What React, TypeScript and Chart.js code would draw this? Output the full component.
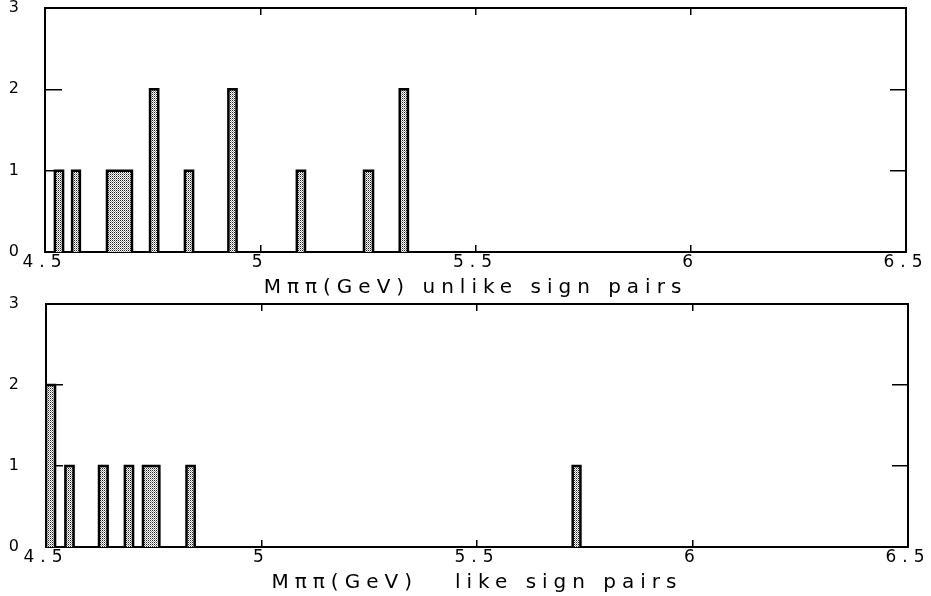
import React, { useEffect, useRef } from "react";
import { Chart, registerables } from "chart.js";

Chart.register(...registerables);

// ---- data (GeV bin edges, counts) ----
const topLow = [4.523, 4.563, 4.644, 4.744, 4.825, 4.926, 5.085, 5.241, 5.324];
const topHigh = [4.542, 4.581, 4.702, 4.763, 4.844, 4.945, 5.104, 5.262, 5.343];
const topCounts = [1, 1, 1, 2, 1, 2, 1, 1, 2];

const botLow = [4.5, 4.545, 4.623, 4.683, 4.725, 4.826, 5.722];
const botHigh = [4.521, 4.564, 4.643, 4.702, 4.763, 4.845, 5.74];
const botCounts = [2, 1, 1, 1, 1, 1, 1];

const xTicks = [4.5, 5, 5.5, 6, 6.5];
const xTickLabels = ["4.5", "5", "5.5", "6", "6.5"];
const yTicks = [0, 1, 2, 3];
const yTickLabels = ["0", "1", "2", "3"];

const topTitle = "M\u03c0\u03c0(GeV) unlike sign pairs";
const botTitle = "M\u03c0\u03c0(GeV)   like sign pairs";

const SPACING = "6px";

const spacingPlugin = {
  id: "letterSpacing",
  beforeLayout(chart: any) {
    chart.ctx.letterSpacing = SPACING;
  },
  beforeDraw(chart: any) {
    chart.ctx.letterSpacing = SPACING;
  },
};

function makePattern(): CanvasPattern | string {
  const c = document.createElement("canvas");
  c.width = 2;
  c.height = 2;
  const g = c.getContext("2d");
  if (!g) return "#b8b8b8";
  g.fillStyle = "#ffffff";
  g.fillRect(0, 0, 2, 2);
  g.fillStyle = "#222222";
  g.fillRect(0, 0, 1, 1);
  g.fillStyle = "#999999";
  g.fillRect(1, 1, 1, 1);
  return g.createPattern(c, "repeat") || "#b8b8b8";
}

type PanelProps = {
  low: number[];
  high: number[];
  counts: number[];
  title: string;
  top: number;
  height: number;
  leftW: number;
  rightW: number;
  topH: number;
  bottomH: number;
  titlePad: number;
  yPad: number;
};

function Panel(p: PanelProps) {
  const ref = useRef<HTMLCanvasElement | null>(null);
  useEffect(() => {
    if (!ref.current) return;
    const pattern = makePattern();
    const datasets = p.counts.map((v, i) => ({
      data: [
        { x: p.low[i], y: 0 },
        { x: p.low[i], y: v },
        { x: p.high[i], y: v },
        { x: p.high[i], y: 0 },
      ],
      borderColor: "#000000",
      borderWidth: 2.5,
      backgroundColor: pattern,
      fill: "origin",
      pointRadius: 0,
      tension: 0,
      borderJoinStyle: "miter",
    }));
    const tickFont = { family: "DejaVu Sans", size: 17, lineHeight: 1.2 };
    const yTickFont = { family: "DejaVu Sans", size: 16, lineHeight: 0.5 };
    const gridCommon = { drawOnChartArea: false, drawTicks: true, color: "#000000", lineWidth: 1.5 };
    const border = { display: true, color: "#000000", width: 2 };
    const setX = (a: any) => {
      a.ticks = xTicks.map((v) => ({ value: v }));
    };
    const setY = (a: any) => {
      a.ticks = yTicks.map((v) => ({ value: v }));
    };
    const fitH = (h: number) => (a: any) => {
      a.height = h;
      a.paddingLeft = 0;
      a.paddingRight = 0;
      a.paddingTop = 0;
      a.paddingBottom = 0;
    };
    const fitW = (w: number) => (a: any) => {
      a.width = w;
      a.paddingLeft = 0;
      a.paddingRight = 0;
      a.paddingTop = 0;
      a.paddingBottom = 0;
    };
    const chart = new Chart(ref.current, {
      type: "line",
      data: { datasets: datasets as any },
      plugins: [spacingPlugin],
      options: {
        responsive: false,
        animation: false,
        devicePixelRatio: 1,
        layout: { padding: 0 },
        plugins: {
          legend: { display: false },
          tooltip: { enabled: false },
          title: { display: false },
        },
        scales: {
          x: {
            type: "linear",
            position: "bottom",
            min: 4.5,
            max: 6.5,
            afterBuildTicks: setX,
            afterFit: fitH(p.bottomH),
            ticks: {
              font: tickFont,
              color: "#000000",
              padding: 7,
              maxRotation: 0,
              autoSkip: false,
              callback: (_v: any, i: number) => xTickLabels[i],
            },
            grid: { ...gridCommon, tickLength: -7 },
            border,
            title: {
              display: true,
              text: p.title,
              color: "#000000",
              font: { family: "DejaVu Sans", size: 20, lineHeight: 1.2 },
              padding: { top: 0, bottom: p.titlePad },
            },
          },
          x2: {
            type: "linear",
            position: "top",
            min: 4.5,
            max: 6.5,
            afterBuildTicks: setX,
            afterFit: fitH(p.topH),
            ticks: { display: false },
            grid: { ...gridCommon, tickLength: -7 },
            border,
          },
          y: {
            type: "linear",
            position: "left",
            min: 0,
            max: 3,
            afterBuildTicks: setY,
            afterFit: fitW(p.leftW),
            ticks: {
              font: yTickFont,
              color: "#000000",
              padding: p.yPad,
              autoSkip: false,
              callback: (_v: any, i: number) => yTickLabels[i],
            },
            grid: { ...gridCommon, tickLength: -17 },
            border,
          },
          y2: {
            type: "linear",
            position: "right",
            min: 0,
            max: 3,
            afterBuildTicks: setY,
            afterFit: fitW(p.rightW),
            ticks: { display: false },
            grid: { ...gridCommon, tickLength: -16 },
            border,
          },
        },
      } as any,
    });
    return () => chart.destroy();
  }, []);
  return (
    <canvas
      ref={ref}
      width={931}
      height={p.height}
      style={{ position: "absolute", left: 0, top: p.top, width: 931, height: p.height }}
    />
  );
}

export default function App() {
  return (
    <div
      style={{
        position: "fixed",
        left: 0,
        top: 0,
        width: 931,
        height: 596,
        background: "#ffffff",
        overflow: "hidden",
      }}
    >
      <Panel
        low={topLow}
        high={topHigh}
        counts={topCounts}
        title={topTitle}
        top={-4}
        height={304}
        leftW={45}
        rightW={25}
        topH={12}
        bottomH={48}
        titlePad={0}
        yPad={37}
      />
      <Panel
        low={botLow}
        high={botHigh}
        counts={botCounts}
        title={botTitle}
        top={296}
        height={300}
        leftW={46}
        rightW={23}
        topH={8}
        bottomH={49}
        titlePad={1}
        yPad={38}
      />
    </div>
  );
}
